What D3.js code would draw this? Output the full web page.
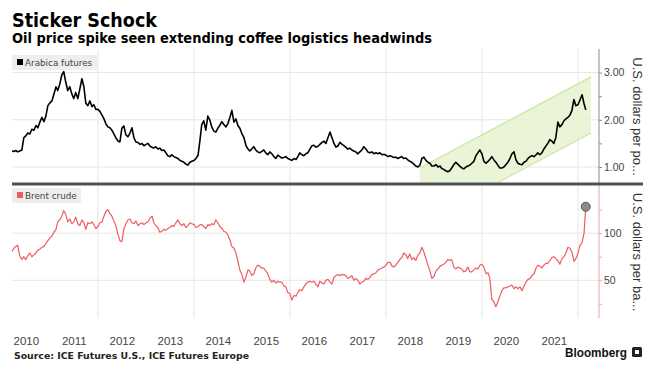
<!DOCTYPE html>
<html>
<head>
<meta charset="utf-8">
<script src="https://cdn.jsdelivr.net/npm/d3@7"></script>
<style>
  body { margin: 0; background: #fff; }
  svg { display: block; }
</style>
</head>
<body>
<div id="chart"></div>
<script>
// semi-monthly observations (1st and 16th) starting 16 Mar 2010
var startYear = 2010, startMonth = 2;

// Arabica futures, USD per lb
var arabica = [
  1.34, 1.33, 1.35, 1.32, 1.34, 1.36, 1.62, 1.66, 1.72, 1.70, 1.80, 1.78, 1.88, 1.83, 1.95, 2.05, 1.96, 2.08, 2.30,
  2.36, 2.40, 2.55, 2.70, 2.62, 2.75, 2.95, 3.02, 2.80, 2.62, 2.70, 2.55, 2.45, 2.58, 2.45, 2.65, 2.87, 2.70, 2.35, 2.30, 2.40, 2.28, 2.32, 2.22,
  2.22, 2.18, 2.10, 2.02, 1.92, 1.85, 1.83, 1.78, 1.70, 1.62, 1.55, 1.53, 1.82, 1.87, 1.68, 1.64, 1.72, 1.83, 1.62, 1.53, 1.52, 1.48, 1.50, 1.45,
  1.48, 1.50, 1.44, 1.42, 1.40, 1.43, 1.38, 1.40, 1.35, 1.36, 1.30, 1.24, 1.22, 1.26, 1.22, 1.20, 1.18, 1.14, 1.12, 1.10, 1.06, 1.04, 1.10, 1.12,
  1.14, 1.18, 1.25, 1.58, 1.90, 1.98, 1.78, 2.08, 2.00, 1.85, 1.76, 1.74, 1.82, 1.88, 1.96, 1.90, 1.85, 1.92, 2.05, 2.20, 1.95, 2.02, 1.88, 1.82,
  1.70, 1.62, 1.45, 1.38, 1.34, 1.38, 1.43, 1.36, 1.32, 1.30, 1.33, 1.36, 1.30, 1.26, 1.32, 1.28, 1.22, 1.18, 1.25, 1.22, 1.19, 1.20, 1.22, 1.18,
  1.16, 1.14, 1.18, 1.16, 1.22, 1.30, 1.26, 1.24, 1.28, 1.30, 1.38, 1.45, 1.46, 1.42, 1.44, 1.48, 1.52, 1.55, 1.50, 1.62, 1.74, 1.62, 1.50, 1.42,
  1.45, 1.52, 1.48, 1.45, 1.42, 1.38, 1.40, 1.36, 1.34, 1.32, 1.28, 1.32, 1.36, 1.43, 1.38, 1.32, 1.30, 1.32, 1.28, 1.30, 1.28, 1.30, 1.26, 1.27,
  1.25, 1.22, 1.24, 1.22, 1.20, 1.21, 1.18, 1.20, 1.22, 1.18, 1.19, 1.15, 1.12, 1.10, 1.06, 1.02, 1.00, 1.04, 1.18, 1.21, 1.14, 1.10, 1.08, 1.02,
  1.02, 1.05, 1.00, 1.02, 0.97, 0.95, 0.92, 0.90, 0.92, 0.98, 1.05, 1.10, 1.06, 1.02, 0.98, 0.96, 1.00, 1.02, 1.04, 1.08, 1.12, 1.24, 1.30, 1.36,
  1.28, 1.12, 1.08, 1.12, 1.16, 1.22, 1.15, 1.10, 1.04, 0.98, 0.98, 1.00, 1.05, 1.10, 1.18, 1.28, 1.32, 1.15, 1.08, 1.06, 1.05, 1.10, 1.12, 1.18,
  1.22, 1.24, 1.22, 1.26, 1.30, 1.26, 1.30, 1.38, 1.44, 1.50, 1.58, 1.55, 1.50, 1.62, 1.95, 1.85, 1.90, 1.98, 2.02, 2.05, 2.10, 2.20, 2.43, 2.30,
  2.32, 2.42, 2.53, 2.34, 2.21
];

// Brent crude, USD per barrel
var brent = [
  80, 84, 86, 87, 76, 72, 75, 72, 76, 79, 75, 77, 79, 82, 83, 85, 86, 89, 92,
  95, 97, 101, 104, 112, 114, 118, 124, 120, 112, 115, 110, 112, 117, 110, 108, 114, 111, 104, 111, 110, 112, 109, 105,
  107, 111, 112, 118, 123, 125, 121, 118, 113, 108, 99, 92, 91, 104, 110, 114, 115, 111, 110, 113, 108, 110, 111, 109,
  111, 112, 116, 118, 111, 108, 106, 101, 102, 104, 103, 105, 106, 108, 107, 111, 114, 110, 108, 110, 106, 108, 111, 110,
  109, 106, 107, 109, 109, 107, 105, 109, 108, 110, 109, 114, 111, 107, 105, 102, 101, 98, 93, 86, 84, 79, 70, 61,
  56, 48, 54, 61, 60, 55, 57, 63, 66, 65, 63, 63, 60, 57, 51, 48, 50, 47, 49, 48, 48, 44, 43, 37,
  36, 29, 34, 33, 37, 40, 39, 43, 46, 48, 49, 48, 49, 46, 43, 49, 47, 46, 50, 51, 48, 46, 53, 55,
  56, 55, 56, 56, 55, 52, 53, 55, 50, 52, 50, 46, 48, 49, 52, 51, 53, 56, 57, 58, 61, 62, 63, 64,
  66, 69, 69, 65, 64, 66, 69, 72, 74, 79, 77, 73, 78, 72, 74, 71, 77, 79, 85, 80, 73, 66, 60, 52,
  54, 60, 62, 65, 66, 67, 69, 72, 71, 72, 64, 62, 64, 63, 62, 59, 60, 64, 59, 59, 61, 63, 62, 66,
  67, 64, 57, 58, 52, 30, 27, 22, 27, 33, 39, 42, 42, 43, 44, 45, 41, 43, 41, 43, 39, 44, 48, 51,
  52, 55, 57, 63, 66, 65, 63, 66, 68, 68, 71, 74, 75, 73, 71, 67, 73, 75, 79, 85, 84, 80, 70, 73,
  79, 87, 90, 100, 128
];

// trend channel drawn over the coffee panel
var channelDates = ["2018-09-15", "2022-04-10"];
var channelUpper = [0.98, 2.91];
var channelLower = [-0.21, 1.72];

var yearLabels = ["2010", "2011", "2012", "2013", "2014", "2015", "2016", "2017", "2018", "2019", "2020", "2021"];
var gridYears = [2012, 2014, 2016, 2018, 2020, 2022];
var arabicaTicks = [1, 2, 3], arabicaMinor = [1.5, 2.5];
var brentTicks = [50, 100], brentMinor = [25, 75, 125];

var width = 660, height = 378;
var left = 12, axisX = 599;
var top1 = 49, bot1 = 184, top2 = 186, bot2 = 318;

var svg = d3.select("#chart").append("svg")
  .attr("width", width)
  .attr("height", height);

function dateAt(i) {
  var m = Math.floor((i + 1) / 2);
  return new Date(startYear, startMonth + m, i % 2 === 0 ? 16 : 1);
}

var x = d3.scaleTime()
  .domain([new Date(2010, 0, 1), new Date(2022, 0, 1)])
  .range([2, 578]);
var y1 = d3.scaleLinear().domain([0.64, 3.5]).range([bot1, top1]);
var y2 = d3.scaleLinear().domain([10, 150]).range([bot2, top2]);

var clip1 = svg.append("clipPath").attr("id", "clip1")
  .append("rect").attr("x", left).attr("y", top1).attr("width", axisX - left).attr("height", bot1 - top1);
var clip2 = svg.append("clipPath").attr("id", "clip2")
  .append("rect").attr("x", left).attr("y", top2).attr("width", axisX - left).attr("height", bot2 - top2);

// vertical grid
svg.append("g").selectAll("line")
  .data(gridYears)
  .enter().append("line")
  .attr("x1", function (d) { return x(new Date(d, 0, 1)); })
  .attr("x2", function (d) { return x(new Date(d, 0, 1)); })
  .attr("y1", top1)
  .attr("y2", bot2)
  .style("stroke", "#e6e6e6")
  .style("stroke-width", 1);

// horizontal grid
svg.append("g").selectAll("line")
  .data(arabicaTicks)
  .enter().append("line")
  .attr("x1", left).attr("x2", axisX)
  .attr("y1", function (d) { return y1(d); })
  .attr("y2", function (d) { return y1(d); })
  .style("stroke", "#e6e6e6");
svg.append("g").selectAll("line")
  .data(brentTicks)
  .enter().append("line")
  .attr("x1", left).attr("x2", axisX)
  .attr("y1", function (d) { return y2(d); })
  .attr("y2", function (d) { return y2(d); })
  .style("stroke", "#e6e6e6");

// channel
var chan = svg.append("g").attr("clip-path", "url(#clip1)");
var cd = channelDates.map(function (d) { return d3.timeParse("%Y-%m-%d")(d); });
var poly = [[cd[0], channelUpper[0]], [cd[1], channelUpper[1]], [cd[1], channelLower[1]], [cd[0], channelLower[0]]];
chan.append("path")
  .attr("d", "M" + poly.map(function (p) { return x(p[0]) + "," + y1(p[1]); }).join("L") + "Z")
  .style("fill", "#e4f3cc")
  .style("fill-opacity", 0.8);
[channelUpper, channelLower].forEach(function (edge) {
  chan.append("line")
    .attr("x1", x(cd[0])).attr("y1", y1(edge[0]))
    .attr("x2", x(cd[1])).attr("y2", y1(edge[1]))
    .style("stroke", "#cde5a6")
    .style("stroke-width", 1.2);
});

// lines
var line1 = d3.line()
  .x(function (d, i) { return x(dateAt(i)); })
  .y(function (d) { return y1(d); });
var line2 = d3.line()
  .x(function (d, i) { return x(dateAt(i)); })
  .y(function (d) { return y2(d); });

svg.append("g").attr("clip-path", "url(#clip1)")
  .append("path")
  .datum(arabica)
  .attr("d", line1)
  .style("fill", "none")
  .style("stroke", "#000")
  .style("stroke-width", 1.6)
  .style("stroke-linejoin", "round");

svg.append("g").attr("clip-path", "url(#clip2)")
  .append("path")
  .datum(brent)
  .attr("d", line2)
  .style("fill", "none")
  .style("stroke", "#ee5c60")
  .style("stroke-width", 1.2)
  .style("stroke-linejoin", "round");

// last brent point
var lastI = brent.length - 1;
svg.append("circle")
  .attr("cx", x(dateAt(lastI)))
  .attr("cy", y2(brent[lastI]))
  .attr("r", 4.5)
  .style("fill", "#8c8c8c")
  .style("stroke", "#5a5a5a")
  .style("stroke-width", 1);

// right axes
var ax1 = svg.append("g")
  .attr("transform", "translate(" + axisX + ",0)")
  .call(d3.axisRight(y1).tickValues(arabicaTicks).tickSize(3).tickPadding(2).tickFormat(d3.format(".2f")));
ax1.select(".domain").remove();
var ax1m = svg.append("g")
  .attr("transform", "translate(" + axisX + ",0)")
  .call(d3.axisRight(y1).tickValues(arabicaMinor).tickSize(3).tickFormat(""));
ax1m.select(".domain").remove();
svg.append("line")
  .attr("x1", axisX).attr("x2", axisX)
  .attr("y1", top1).attr("y2", bot1)
  .style("stroke", "#8a8a8a");

var ax2 = svg.append("g")
  .attr("transform", "translate(" + axisX + ",0)")
  .call(d3.axisRight(y2).tickValues(brentTicks).tickSize(3).tickPadding(2));
ax2.select(".domain").remove();
var ax2m = svg.append("g")
  .attr("transform", "translate(" + axisX + ",0)")
  .call(d3.axisRight(y2).tickValues(brentMinor).tickSize(3).tickFormat(""));
ax2m.select(".domain").remove();
svg.append("line")
  .attr("x1", axisX).attr("x2", axisX)
  .attr("y1", bot1).attr("y2", bot2)
  .style("stroke", "#f2a2a4");

ax1.selectAll("line").style("stroke", "#8a8a8a");
ax1m.selectAll("line").style("stroke", "#8a8a8a");
ax2.selectAll("line").style("stroke", "#f2a2a4");
ax2m.selectAll("line").style("stroke", "#f2a2a4");
svg.selectAll(".tick text")
  .style("font-family", "'Liberation Sans', Arial, sans-serif")
  .style("font-size", "10.5px")
  .style("fill", "#444");

// panel separator
svg.append("line")
  .attr("x1", left).attr("x2", 643)
  .attr("y1", bot1).attr("y2", bot1)
  .style("stroke", "#505050")
  .style("stroke-width", 3);

// axis titles
svg.append("text")
  .attr("transform", "translate(633," + ((top1 + bot1) / 2) + ") rotate(90)")
  .style("text-anchor", "middle")
  .style("font-family", "'Liberation Sans', Arial, sans-serif")
  .style("font-size", "13px")
  .style("fill", "#333")
  .text("U.S. dollars per po...");
svg.append("text")
  .attr("transform", "translate(633," + ((top2 + bot2) / 2) + ") rotate(90)")
  .style("text-anchor", "middle")
  .style("font-family", "'Liberation Sans', Arial, sans-serif")
  .style("font-size", "13px")
  .style("fill", "#333")
  .text("U.S. dollars per ba...");

// x axis (labels centred mid-year)
var xAxis = svg.append("g")
  .attr("transform", "translate(0,334)")
  .call(d3.axisBottom(x)
    .tickValues(yearLabels.map(function (d) { return new Date(+d, 6, 1); }))
    .tickSize(0)
    .tickFormat(d3.timeFormat("%Y")));
xAxis.select(".domain").remove();
xAxis.selectAll("text")
  .style("font-family", "'Liberation Sans', Arial, sans-serif")
  .style("font-size", "11.5px")
  .style("fill", "#444");

// legends
function legend(yTop, w, color, label) {
  var g = svg.append("g");
  g.append("rect")
    .attr("x", left).attr("y", yTop).attr("width", w).attr("height", 15)
    .style("fill", "#eeeeee");
  g.append("rect")
    .attr("x", 17).attr("y", yTop + 4).attr("width", 6).attr("height", 6)
    .style("fill", color);
  g.append("text")
    .attr("x", 25).attr("y", yTop + 10.5)
    .style("font-family", "'DejaVu Sans', Verdana, sans-serif")
    .style("font-size", "8.8px")
    .style("fill", "#444")
    .text(label);
}
legend(55, 85, "#000", "Arabica futures");
legend(188, 69, "#ee5c60", "Brent crude");

// titles
svg.append("text")
  .attr("x", 12).attr("y", 27)
  .attr("textLength", 145).attr("lengthAdjust", "spacingAndGlyphs")
  .style("font-family", "'DejaVu Sans', Verdana, sans-serif")
  .style("font-weight", "bold")
  .style("font-size", "19px")
  .style("fill", "#000")
  .text("Sticker Schock");
svg.append("text")
  .attr("x", 12).attr("y", 43)
  .attr("textLength", 420).attr("lengthAdjust", "spacingAndGlyphs")
  .style("font-family", "'DejaVu Sans', Verdana, sans-serif")
  .style("font-weight", "bold")
  .style("font-size", "14px")
  .style("fill", "#000")
  .text("Oil price spike seen extending coffee logistics headwinds");

svg.append("text")
  .attr("x", 14).attr("y", 359)
  .attr("textLength", 235).attr("lengthAdjust", "spacingAndGlyphs")
  .style("font-family", "'DejaVu Sans', Verdana, sans-serif")
  .style("font-weight", "bold")
  .style("font-size", "9px")
  .style("fill", "#222")
  .text("Source: ICE Futures U.S., ICE Futures Europe");

svg.append("text")
  .attr("x", 565).attr("y", 357)
  .attr("textLength", 62).attr("lengthAdjust", "spacingAndGlyphs")
  .style("font-family", "'Liberation Sans', Arial, sans-serif")
  .style("font-weight", "bold")
  .style("font-size", "12.5px")
  .style("fill", "#111")
  .text("Bloomberg");
svg.append("rect")
  .attr("x", 632).attr("y", 347).attr("width", 10).attr("height", 10).attr("rx", 1.5)
  .style("fill", "#222");
svg.append("rect")
  .attr("x", 635).attr("y", 350).attr("width", 4).attr("height", 4)
  .style("fill", "#fff");
</script>
</body>
</html>
